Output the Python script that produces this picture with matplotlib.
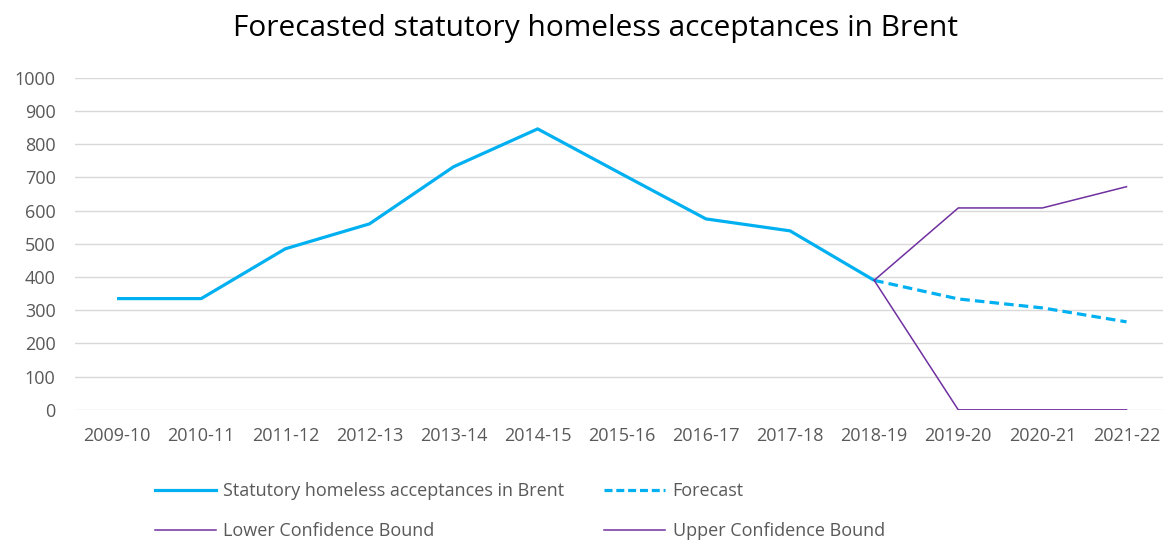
import numpy as np
import matplotlib.pyplot as plt
from matplotlib.lines import Line2D

plt.rcParams['font.family'] = ['Open Sans', 'DejaVu Sans']

# Yearly periods on the category axis
years = ['2009-10', '2010-11', '2011-12', '2012-13', '2013-14', '2014-15',
         '2015-16', '2016-17', '2017-18', '2018-19', '2019-20', '2020-21',
         '2021-22']

# Recorded acceptances (2009-10 to 2018-19)
acceptances = [335, 335, 485, 560, 732, 846, 710, 575, 539, 390]

# Forecast and confidence bounds (start from the last recorded year)
forecast = [390, 334, 307, 265]
lower_bound = [390, 0, 0, 0]
upper_bound = [390, 608, 608, 672]

blue = '#00B0F0'
purple = '#7030A0'

fig = plt.figure(figsize=(11.63, 5.40), dpi=100)
ax = fig.add_axes([0.0645, 0.241, 0.9403, 0.615])

x_hist = np.arange(len(acceptances))
x_fc = np.arange(len(acceptances) - 1, len(years))

ax.plot(x_hist, acceptances, color=blue, lw=2.3, solid_capstyle='butt')
ax.plot(x_fc, forecast, color=blue, lw=2.3, ls=(0, (3, 1.6)))
ax.plot(x_fc, lower_bound, color=purple, lw=1.1)
ax.plot(x_fc, upper_bound, color=purple, lw=1.1)

ax.set_xlim(-0.5, len(years) - 0.5)
ax.set_ylim(0, 1000)
ax.set_yticks(range(0, 1001, 100))
ax.set_xticks(range(len(years)))
ax.set_xticklabels(years)
ax.grid(axis='y', color='#d9d9d9', lw=1)
ax.set_axisbelow(True)
for s in ax.spines.values():
    s.set_visible(False)
ax.tick_params(length=0, labelsize=13, labelcolor='#595959')
ax.tick_params(axis='y', pad=14)
ax.tick_params(axis='x', pad=12)

fig.text(0.512, 0.9333, 'Forecasted statutory homeless acceptances in Brent',
         ha='center', va='baseline', fontsize=21.5, color='#000000')

handles = [
    Line2D([], [], color=blue, lw=2.3),
    Line2D([], [], color=purple, lw=1.1),
    Line2D([], [], color=blue, lw=2.3, ls=(0, (2.5, 1.2))),
    Line2D([], [], color=purple, lw=1.1),
]
labels = ['Statutory homeless acceptances in Brent', 'Lower Confidence Bound',
          'Forecast', 'Upper Confidence Bound']
fig.legend(handles, labels, ncol=2, loc='center left',
           bbox_to_anchor=(0.119, 0.053), frameon=False, fontsize=13,
           labelcolor='#595959', handlelength=3.4, handletextpad=0.4,
           columnspacing=2.2, labelspacing=1.22)

fig.savefig('out.png', dpi=100)
